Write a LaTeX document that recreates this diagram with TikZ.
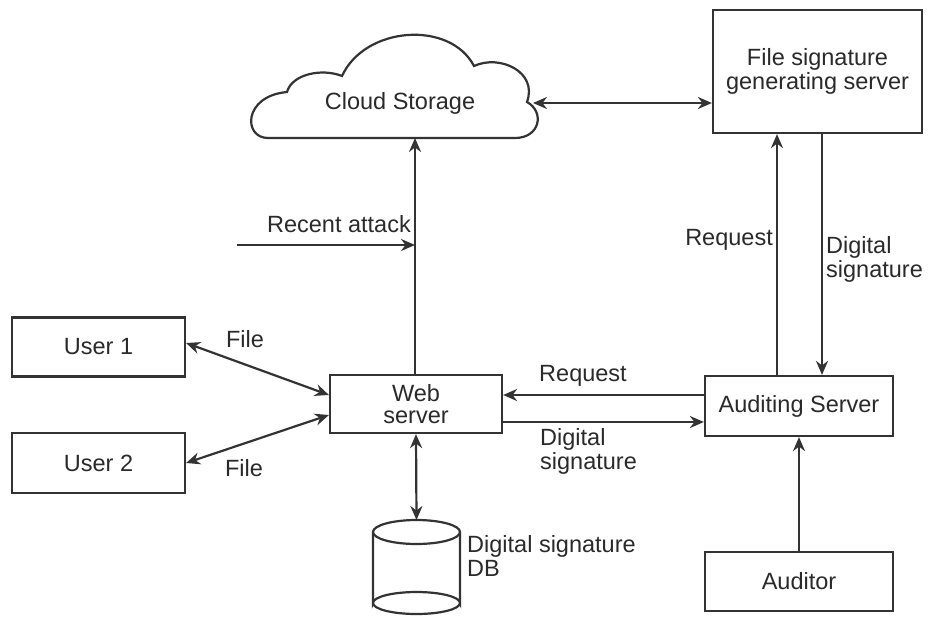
\documentclass[tikz,border=0pt]{standalone}
\usepackage{fontspec}
\setmainfont{Liberation Sans}
\usetikzlibrary{arrows.meta}
\definecolor{ln}{HTML}{333333}
\definecolor{tx}{HTML}{2a2a2a}
\begin{document}
\begin{tikzpicture}[x=1pt,y=-1pt,
  font=\fontsize{23.5}{27}\selectfont, text=tx,
  box/.style={draw=ln, line width=2.2pt, fill=white, align=center, inner sep=0pt},
  lbl/.style={inner sep=0pt, align=left},
  arr/.style={draw=ln, line width=2.2pt, -{Stealth[length=14pt,width=12pt]}},
  darr/.style={draw=ln, line width=2.2pt, {Stealth[length=14pt,width=12pt]}-{Stealth[length=14pt,width=12pt]}}]
\useasboundingbox (0,0) rectangle (936,616);
% cloud
\draw[ln, line width=2.2pt, fill=white]
  (268,138) .. controls (243,138) and (243,96) .. (287,92)
  .. controls (292,74) and (322,68) .. (342,76)
  .. controls (365,26) and (450,20) .. (474,66)
  .. controls (500,54) and (538,72) .. (527,102)
  .. controls (545,112) and (540,138) .. (515,138) -- cycle;
\node[lbl] (cs) at (400,103) {Cloud Storage};
\coordinate (csR) at (533,103);
\coordinate (csB) at (415,138);
% boxes
\node[box, minimum width=209pt, minimum height=123pt] (fsg) at (817.5,71.5) {File signature\\[-3pt]generating server};
\node[box, minimum width=173pt, minimum height=59pt] (u1) at (98.5,347) {User 1};
\node[box, minimum width=173pt, minimum height=60pt] (u2) at (98.5,463) {User 2};
\node[box, minimum width=172pt, minimum height=58pt] (web) at (416,404) {Web\\[-5pt]server};
\node[box, minimum width=188pt, minimum height=60pt] (aud) at (799,406) {Auditing Server};
\node[box, minimum width=188pt, minimum height=59pt] (aut) at (799,581.5) {Auditor};
% database cylinder
\draw[ln, line width=2.2pt, fill=white] (373,532) -- (373,603) arc[start angle=180, end angle=360, x radius=43.5, y radius=11] -- (460,532);
\draw[ln, line width=2.2pt, fill=white] (416.5,532) ellipse[x radius=43.5, y radius=12];
\draw[ln, line width=2.2pt] (373,603) arc[start angle=180, end angle=0, x radius=43.5, y radius=11];
\coordinate (db) at (416.5,520);
% connectors
\draw[darr] (csR) -- (fsg.west |- csR);
\draw[arr] (web.north -| csB) -- (csB);
\coordinate (ra) at (237,245);
\draw[arr] (ra) -- (415,245);
\draw[darr] (u1.east |- 0,343) -- (web.west |- 0,395);
\draw[darr] (u2.east |- 0,463) -- (web.west |- 0,415);
\draw[arr] (aud.west |- 0,395) -- (web.east |- 0,395);
\draw[arr] (web.east |- 0,422) -- (aud.west |- 0,422);
\draw[arr] (aud.north -| 777,0) -- (fsg.south -| 777,0);
\draw[arr] (fsg.south -| 822,0) -- (aud.north -| 822,0);
\draw[arr] (aut.north) -- (aud.south);
\draw[darr] (web.south) -- (db);
% labels
\node[lbl, anchor=east] (lra) at (411,224) {Recent attack};
\node[lbl] (lf1) at (245,339) {File};
\node[lbl] (lf2) at (244,468) {File};
\node[lbl] (lreq) at (583,376) {Request};
\node[lbl, anchor=north west] (lds) at (540,428) {Digital\\[-3pt]signature};
\node[lbl, anchor=east] (lreq2) at (773,240) {Request};
\node[lbl, anchor=north west] (lds2) at (826,236) {Digital\\[-3pt]signature};
\node[lbl, anchor=north west] (ldb) at (467,535) {Digital signature\\[-3pt]DB};
\end{tikzpicture}
\end{document}
